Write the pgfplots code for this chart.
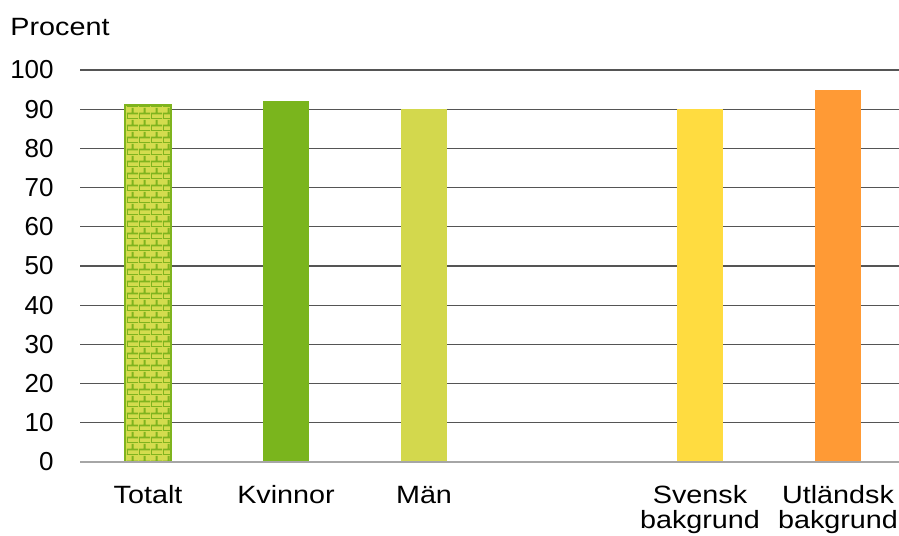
\documentclass[border=0pt]{standalone}
\usepackage{pgfplots}
\pgfplotsset{compat=1.18}
\usepackage{fontspec}
\setmainfont{Liberation Sans}
\newfontfamily\widefont{Liberation Sans}[FakeStretch=1.15]
\usetikzlibrary{patterns}

\definecolor{gridc}{HTML}{555555}
\definecolor{basec}{HTML}{A6A6A6}
\definecolor{brickbg}{HTML}{D4DC4E}
\definecolor{brickln}{HTML}{7FB41E}
\definecolor{kvinnor}{HTML}{7AB51D}
\definecolor{man}{HTML}{D3D84D}
\definecolor{svensk}{HTML}{FFDC40}
\definecolor{utl}{HTML}{FF9A35}

% small bricks, about 4.6pt x 2.3pt
\pgfdeclarepatternformonly{smallbricks}{\pgfpointorigin}{\pgfqpoint{4.6pt}{4.6pt}}{\pgfqpoint{4.6pt}{4.6pt}}{
  \pgfsetlinewidth{0.8pt}
  \pgfpathmoveto{\pgfqpoint{0pt}{0pt}}\pgfpathlineto{\pgfqpoint{4.6pt}{0pt}}
  \pgfpathmoveto{\pgfqpoint{0pt}{2.3pt}}\pgfpathlineto{\pgfqpoint{4.6pt}{2.3pt}}
  \pgfpathmoveto{\pgfqpoint{0pt}{0pt}}\pgfpathlineto{\pgfqpoint{0pt}{2.3pt}}
  \pgfpathmoveto{\pgfqpoint{2.3pt}{2.3pt}}\pgfpathlineto{\pgfqpoint{2.3pt}{4.6pt}}
  \pgfusepath{stroke}
}

\begin{document}
\fontsize{10}{10.5}\selectfont
\begin{tikzpicture}
\begin{axis}[
  name=ax,
  width=327.6pt,
  height=156.8pt,
  scale only axis,
  xmin=-0.493, xmax=5.442,
  ymin=0, ymax=100,
  ytick={0,10,...,100},
  xtick={0,1,2,4,5},
  xticklabels={Totalt,Kvinnor,Män,{Svensk\\bakgrund},{Utländsk\\bakgrund}},
  xticklabel style={align=center, yshift=-6pt, font=\widefont\fontsize{10}{10}\selectfont},
  yticklabel style={xshift=-7pt, font=\fontsize{10.4}{12}\selectfont},
  /pgf/number format/assume math mode=true,
  major tick length=0pt,
  axis line style={draw=none},
  ymajorgrids,
  grid style={gridc, line width=0.55pt},
  ybar, bar shift=0pt, bar width=18.4pt,
  clip=false,
]
\addplot[draw=brickln, line width=0.8pt, fill=brickbg, postaction={pattern=smallbricks, pattern color=brickln}] coordinates {(0,91)};
\addplot[draw=none, fill=kvinnor] coordinates {(1,92)};
\addplot[draw=none, fill=man] coordinates {(2,90)};
\addplot[draw=none, fill=svensk] coordinates {(4,90)};
\addplot[draw=none, fill=utl] coordinates {(5,95)};
\draw[basec, line width=0.6pt] (rel axis cs:0,0) -- (rel axis cs:1,0);
\node[anchor=base west, inner sep=0pt, font=\widefont] at ([xshift=-28pt, yshift=13.6pt]rel axis cs:0,1) {Procent};
\end{axis}
\pgfresetboundingbox
\useasboundingbox ([xshift=-32pt, yshift=-29.2pt]ax.south west) rectangle ([yshift=28pt]ax.north east);
\end{tikzpicture}
\end{document}
